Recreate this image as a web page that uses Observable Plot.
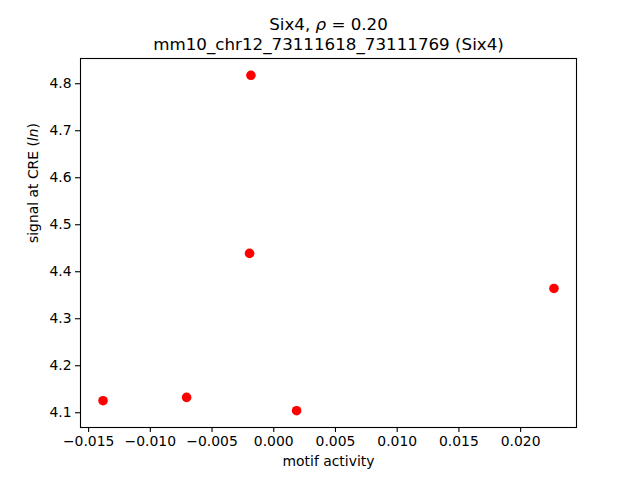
<!DOCTYPE html>
<html>
<head>
<meta charset="utf-8">
<script src="https://cdn.jsdelivr.net/npm/d3@7"></script>
<script src="https://cdn.jsdelivr.net/npm/@observablehq/plot@0.6"></script>
<style>
  html, body { margin: 0; padding: 0; background: #fff; }
  svg { display: block; }
</style>
</head>
<body>
<div id="chart"></div>
<script>
const motifActivity = [-0.01383, -0.00706, -0.00196, -0.00185, 0.00185, 0.0227];
const signalAtCRE = [4.1256, 4.1327, 4.4391, 4.818, 4.1043, 4.3645];
const xTicks = [-0.015, -0.010, -0.005, 0.000, 0.005, 0.010, 0.015, 0.020];
const yTicks = [4.1, 4.2, 4.3, 4.4, 4.5, 4.6, 4.7, 4.8];
const titleLine1 = "Six4, ρ = 0.20";
const titleLine2 = "mm10_chr12_73111618_73111769 (Six4)";
const xLabel = "motif activity";
const yLabel = "signal at CRE (ln)";

const points = motifActivity.map((x, i) => ({x, y: signalAtCRE[i]}));

function padded(arr) {
  const lo = d3.min(arr), hi = d3.max(arr), m = (hi - lo) * 0.05;
  return [lo - m, hi + m];
}

const fmt = (d, n) => (d < 0 ? "\u2212" : "") + Math.abs(d).toFixed(n);

const plot = Plot.plot({
  width: 640,
  height: 480,
  marginLeft: 80,
  marginRight: 64,
  marginTop: 58,
  marginBottom: 53,
  style: {fontFamily: "DejaVu Sans", fontSize: "13.9px", color: "black", background: "white"},
  x: {domain: padded(motifActivity)},
  y: {domain: padded(signalAtCRE)},
  marks: [
    Plot.frame({stroke: "black", strokeWidth: 1.1}),
    Plot.axisX({ticks: xTicks, tickFormat: d => fmt(d, 3), tickSize: 5, tickPadding: 4, label: null, fontSize: 13.9, strokeWidth: 1.1}),
    Plot.axisY({ticks: yTicks, tickFormat: d => d.toFixed(1), tickSize: 5, tickPadding: 4, label: null, fontSize: 13.9, strokeWidth: 1.1}),
    Plot.dot(points, {x: "x", y: "y", r: 4.8, fill: "#ff0000", stroke: "none"}),
    Plot.text([titleLine1 + "\n" + titleLine2], {frameAnchor: "top", dy: -9, lineAnchor: "bottom", lineHeight: 1.17, fontSize: 16.7, fill: "black"}),
    Plot.text([xLabel], {frameAnchor: "bottom", dy: 38, lineAnchor: "bottom", fontSize: 13.9, fill: "black"}),
    Plot.text([yLabel], {frameAnchor: "left", dx: -43, rotate: -90, lineAnchor: "bottom", fontSize: 13.9, fill: "black"})
  ]
});

const svg = d3.select(plot);
svg.selectAll("tspan").each(function() {
  const t = d3.select(this);
  if (this.textContent === titleLine1) {
    t.text(null);
    t.append("tspan").text("Six4, ");
    t.append("tspan").attr("font-style", "italic").text("ρ");
    t.append("tspan").text(" = 0.20");
  }
});
svg.selectAll("text").each(function() {
  const t = d3.select(this);
  if (this.textContent === yLabel) {
    const tgt = t.select("tspan").empty() ? t : t.select("tspan");
    tgt.text(null);
    tgt.append("tspan").text("signal at CRE (");
    tgt.append("tspan").attr("font-style", "italic").text("ln");
    tgt.append("tspan").text(")");
  }
});

document.getElementById("chart").appendChild(plot);
</script>
</body>
</html>
